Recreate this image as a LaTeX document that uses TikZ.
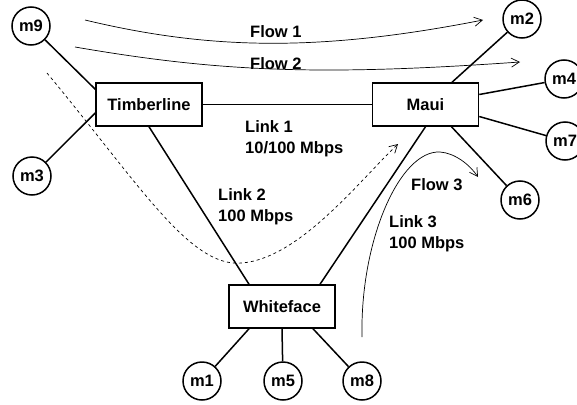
\documentclass[tikz,border=0pt]{standalone}
\usepackage{fontspec}
\setmainfont{Liberation Sans}
\usepackage{tikz}
\usetikzlibrary{arrows.meta}

\tikzset{
  host/.style={draw, circle, line width=1.5pt, minimum size=38pt, inner sep=0pt},
  router/.style={draw, rectangle, line width=1.5pt, minimum width=106pt, minimum height=43pt, inner sep=0pt},
  lbl/.style={anchor=north west, align=left, inner sep=0pt},
  link/.style={line width=1.5pt},
  flow/.style={-{Straight Barb[length=8pt,width=9pt]}, line width=0.7pt}
}

\begin{document}
\begin{tikzpicture}[x=1pt, y=-1pt, font=\fontsize{16.5}{21}\selectfont\bfseries]
\useasboundingbox (0,0) rectangle (577,404);
% routers
\node[router] (timberline) at (149,104.5) {Timberline};
\node[router] (maui)       at (425.5,104.5) {Maui};
\node[router] (whiteface)  at (282,306.5) {Whiteface};
% hosts
\node[host] (m9) at (31,26)  {m9};
\node[host] (m3) at (32,176) {m3};
\node[host] (m2) at (522,19) {m2};
\node[host] (m4) at (564,79) {m4};
\node[host] (m7) at (565,141) {m7};
\node[host] (m6) at (520,200) {m6};
\node[host] (m1) at (202,381) {m1};
\node[host] (m5) at (283,381) {m5};
\node[host] (m8) at (362,381) {m8};
% links
\draw[link] (timberline.east) -- (maui.west);
\draw[link] (timberline.south) -- ([xshift=-33pt]whiteface.north);
\draw[link] (maui.south) -- ([xshift=38pt]whiteface.north);
\draw[link] (m9) -- ([yshift=-7pt]timberline.north west);
\draw[link] (m3) -- ([yshift=-8.5pt]timberline.west);
\draw[link] ([xshift=26.5pt]maui.north) -- (m2);
\draw[link] ([yshift=10pt]maui.east) -- (m4);
\draw[link] ([yshift=-12pt]maui.east) -- (m7);
\draw[link] ([xshift=26pt]maui.south) -- (m6);
\draw[link] ([xshift=-33pt]whiteface.south) -- (m1);
\draw[link] (whiteface.south) -- (m5);
\draw[link] ([xshift=31pt]whiteface.south) -- (m8);
% link labels
\node[lbl] (link1) at (245,120) {Link 1\\10/100 Mbps};
\node[lbl] (link2) at (218,188) {Link 2\\100 Mbps};
\node[lbl] (link3) at (389,215) {Link 3\\100 Mbps};
% flows
\draw[flow] (85,20) .. controls (210,50) and (320,52) .. (483,20);
\draw[flow] (75,47) .. controls (220,72) and (320,76) .. (520,62);
\draw[flow, dashed] (47,73) .. controls (140,185) and (190,268) .. (242,263)
  .. controls (300,258) and (360,180) .. (398,144);
\draw[flow] (362,337) .. controls (360,240) and (400,150) .. (440,152)
  .. controls (455,153) and (470,165) .. (478,177);
\node[lbl] (flow1) at (250,25) {Flow 1};
\node[lbl] (flow2) at (250,57) {Flow 2};
\node[lbl] (flow3) at (411,178) {Flow 3};
\end{tikzpicture}
\end{document}
